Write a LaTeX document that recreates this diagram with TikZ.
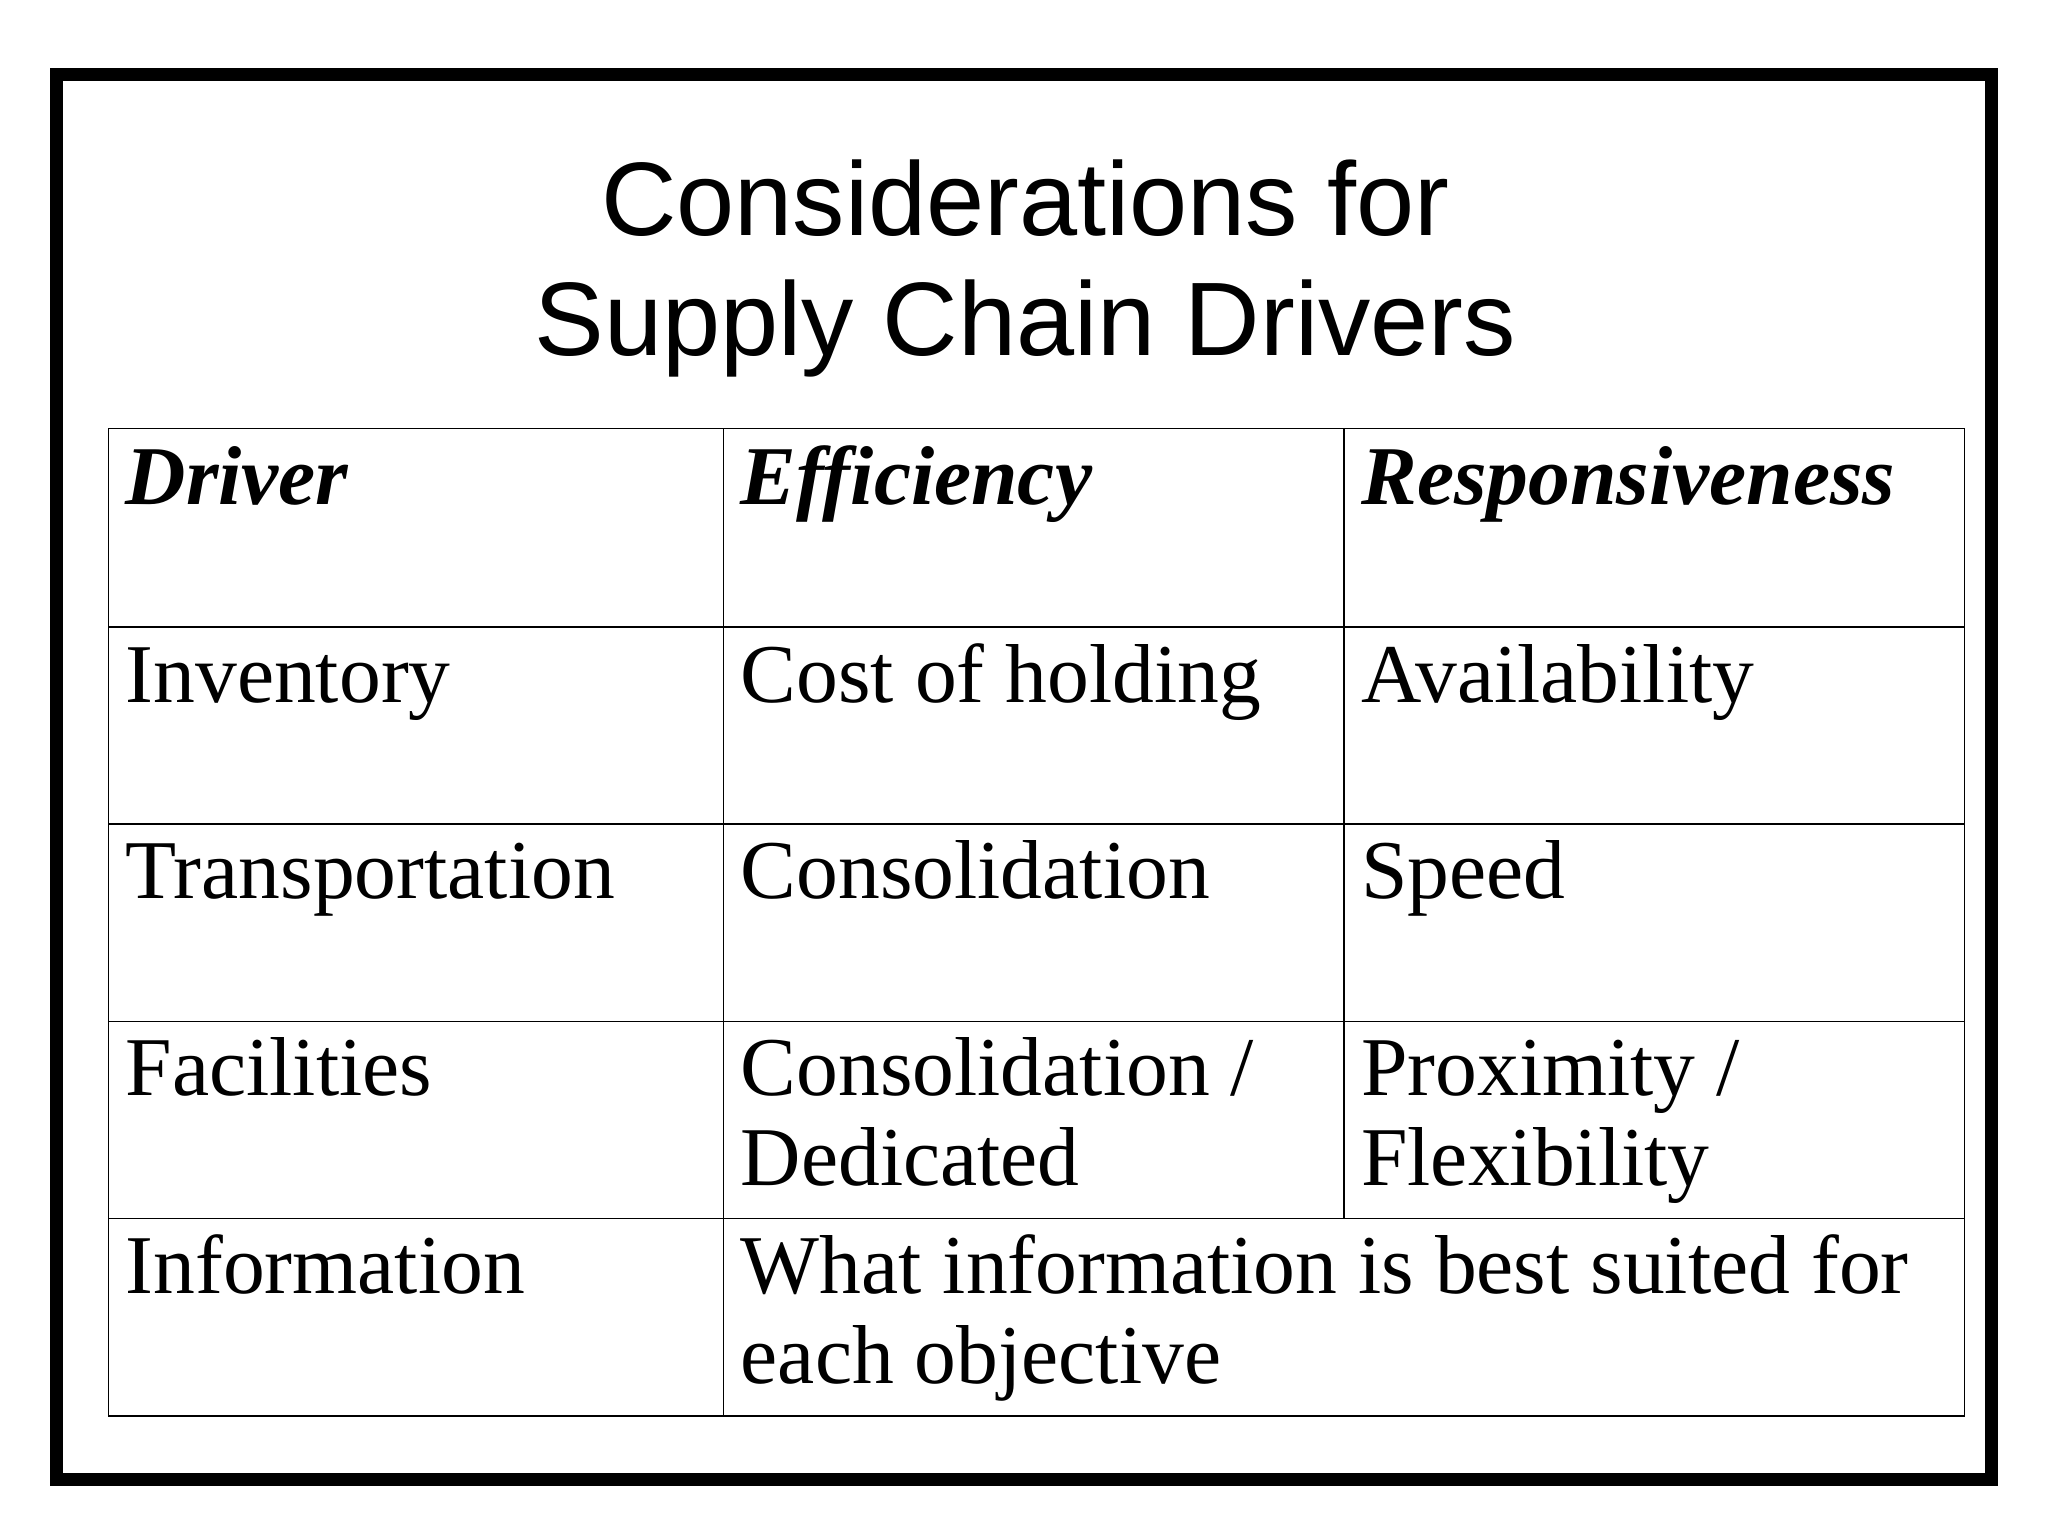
\documentclass[tikz,border=0pt]{standalone}
\usepackage{fontspec}
\setmainfont{Liberation Serif}
\newfontfamily\titlefont{Liberation Sans}
\begin{document}
\begin{tikzpicture}[x=1pt,y=-1pt,
  cell/.style={anchor=base west,inner sep=0pt,font=\fontsize{64}{70}\selectfont,align=left},
  ttl/.style={anchor=base,inner sep=0pt,font=\titlefont\fontsize{80}{92}\selectfont}]
\useasboundingbox (0,0) rectangle (1568,1176);
\fill[white] (0,0) rectangle (1568,1176);
\draw[line width=10pt] (43,57) rectangle (1525,1133);
\node[ttl] (t1) at (785,180) {Considerations for};
\node[ttl] (t2) at (785,272) {Supply Chain Drivers};
\draw[line width=1.2pt] (83,328) rectangle (1504,1084);
\foreach \y in {480,631,782,933} \draw[line width=1.2pt] (83,\y) -- (1504,\y);
\draw[line width=1.2pt] (554,328) -- (554,1084);
\draw[line width=1.2pt] (1029,328) -- (1029,933);
\node[cell] (h1) at (96,386) {\textbf{\textit{Driver}}};
\node[cell] (h2) at (567,386) {\textbf{\textit{Efficiency}}};
\node[cell] (h3) at (1042,386) {\textbf{\textit{Responsiveness}}};
\node[cell] (a1) at (96,538) {Inventory};
\node[cell] (a2) at (567,538) {Cost of holding};
\node[cell] (a3) at (1042,538) {Availability};
\node[cell] (b1) at (96,688) {Transportation};
\node[cell] (b2) at (567,688) {Consolidation};
\node[cell] (b3) at (1042,688) {Speed};
\node[cell] (c1) at (96,839) {Facilities};
\node[cell] (c2) at (567,839) {Consolidation /};
\node[cell] (c2b) at (567,908) {Dedicated};
\node[cell] (c3) at (1042,839) {Proximity /};
\node[cell] (c3b) at (1042,908) {Flexibility};
\node[cell] (d1) at (96,990) {Information};
\node[cell] (d2) at (567,990) {What information is best suited for};
\node[cell] (d2b) at (567,1059) {each objective};
\end{tikzpicture}
\end{document}
